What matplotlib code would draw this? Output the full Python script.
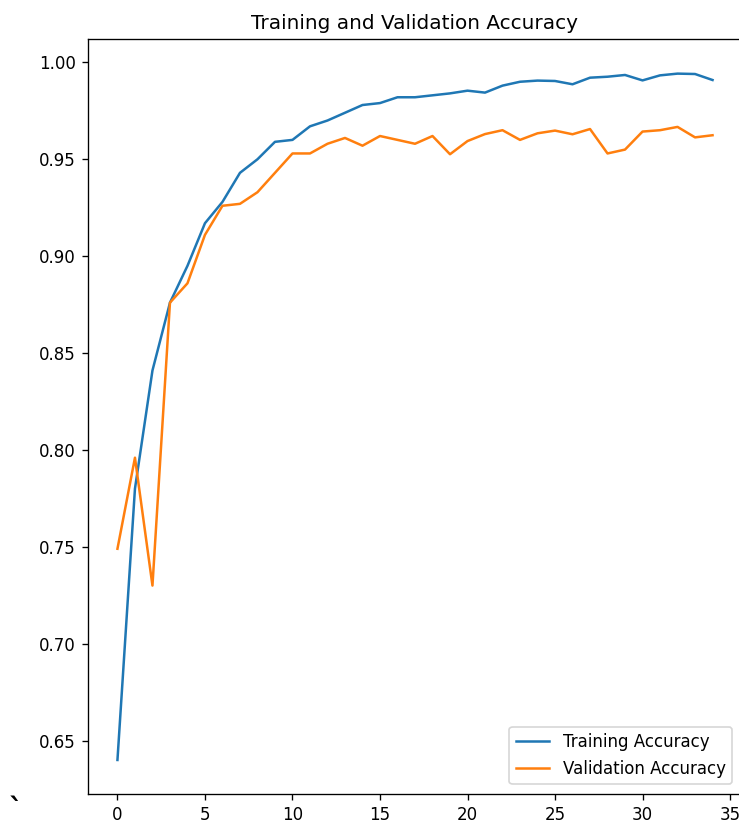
import matplotlib
matplotlib.use("Agg")
import matplotlib.pyplot as plt

epochs = list(range(35))
train_acc = [0.640, 0.780, 0.841, 0.876, 0.895, 0.917, 0.928, 0.943, 0.950, 0.959,
             0.960, 0.967, 0.970, 0.974, 0.978, 0.979, 0.982, 0.982, 0.983, 0.984,
             0.9854, 0.9844, 0.988, 0.990, 0.9906, 0.9904, 0.9887, 0.9921, 0.9926, 0.9935,
             0.9907, 0.9933, 0.9942, 0.994, 0.9909]
val_acc = [0.749, 0.796, 0.730, 0.876, 0.886, 0.911, 0.926, 0.927, 0.933, 0.943,
           0.953, 0.953, 0.958, 0.961, 0.957, 0.962, 0.960, 0.958, 0.962, 0.9526,
           0.9594, 0.963, 0.965, 0.960, 0.9634, 0.9648, 0.9629, 0.9656, 0.953, 0.955,
           0.9643, 0.965, 0.9667, 0.9613, 0.9624]

title = "Training and Validation Accuracy"
labels = ["Training Accuracy", "Validation Accuracy"]

DPI = 120
fig = plt.figure(figsize=(739 / DPI, 824 / DPI), dpi=DPI)
ax = fig.add_axes([87.7 / 739, (824 - 794.3) / 824, (742.3 - 87.7) / 739, (794.3 - 39.3) / 824])
ax.plot(epochs, train_acc, label=labels[0])
ax.plot(epochs, val_acc, label=labels[1])
ax.legend(loc="lower right", borderaxespad=0.6)
ax.set_title(title)
fig.text(16 / 739, 1 - 811 / 824, "`", fontsize=17, fontweight="bold", ha="center", va="center")
fig.savefig("out.png", dpi=DPI)
